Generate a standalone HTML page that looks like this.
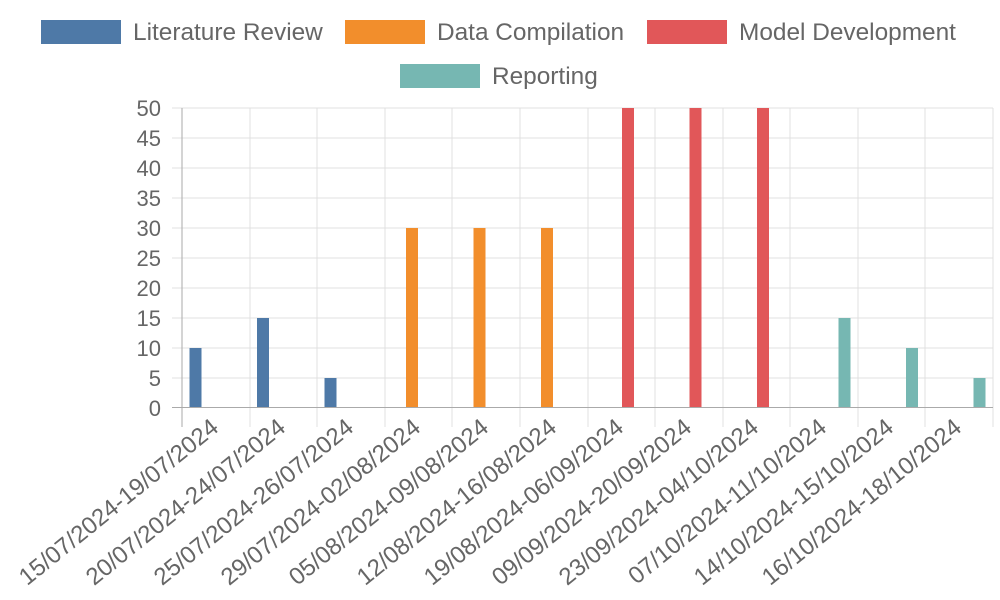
<!DOCTYPE html>
<html><head><meta charset="utf-8"><style>
html,body{margin:0;padding:0;background:#fff;}
svg{display:block;font-family:"Liberation Sans",sans-serif;}
</style></head><body>
<svg width="1000" height="600" xmlns="http://www.w3.org/2000/svg">
<g font-size="24.4" fill="#666">
<rect x="41" y="20" width="80" height="24" fill="#4e79a7"/><text x="133" y="40">Literature Review</text>
<rect x="345" y="20" width="80" height="24" fill="#f28e2c"/><text x="437" y="40">Data Compilation</text>
<rect x="647" y="20" width="80" height="24" fill="#e15759"/><text x="739" y="40">Model Development</text>
<rect x="400" y="64" width="80" height="24" fill="#76b7b2"/><text x="492" y="84">Reporting</text>
</g>
<g stroke="#e0e0e0" stroke-width="1">
<line x1="172" y1="108" x2="993" y2="108"/><line x1="172" y1="138" x2="993" y2="138"/>
<line x1="172" y1="168" x2="993" y2="168"/><line x1="172" y1="198" x2="993" y2="198"/>
<line x1="172" y1="228" x2="993" y2="228"/><line x1="172" y1="258" x2="993" y2="258"/>
<line x1="172" y1="288" x2="993" y2="288"/><line x1="172" y1="318" x2="993" y2="318"/>
<line x1="172" y1="348" x2="993" y2="348"/><line x1="172" y1="378" x2="993" y2="378"/>
<line x1="250" y1="108" x2="250" y2="427"/><line x1="317" y1="108" x2="317" y2="427"/>
<line x1="385" y1="108" x2="385" y2="427"/><line x1="452" y1="108" x2="452" y2="427"/>
<line x1="520" y1="108" x2="520" y2="427"/><line x1="588" y1="108" x2="588" y2="427"/>
<line x1="655" y1="108" x2="655" y2="427"/><line x1="723" y1="108" x2="723" y2="427"/>
<line x1="790" y1="108" x2="790" y2="427"/><line x1="858" y1="108" x2="858" y2="427"/>
<line x1="925" y1="108" x2="925" y2="427"/><line x1="993" y1="108" x2="993" y2="427"/>
</g>
<g stroke="#aaa"><line x1="182" y1="108" x2="182" y2="427"/><line x1="172" y1="407.5" x2="993" y2="407.5"/></g>
<g font-size="22" fill="#666" text-anchor="end">
<text x="161" y="116">50</text><text x="161" y="146">45</text><text x="161" y="176">40</text>
<text x="161" y="206">35</text><text x="161" y="236">30</text><text x="161" y="266">25</text>
<text x="161" y="296">20</text><text x="161" y="326">15</text><text x="161" y="356">10</text>
<text x="161" y="386">5</text><text x="161" y="416">0</text>
</g>
<g>
<rect x="189.5" y="348" width="12" height="59" fill="#4e79a7"/>
<rect x="257" y="318" width="12" height="89" fill="#4e79a7"/>
<rect x="324.5" y="378" width="12" height="29" fill="#4e79a7"/>
<rect x="406" y="228" width="12" height="179" fill="#f28e2c"/>
<rect x="473.5" y="228" width="12" height="179" fill="#f28e2c"/>
<rect x="541" y="228" width="12" height="179" fill="#f28e2c"/>
<rect x="622" y="108" width="12" height="299" fill="#e15759"/>
<rect x="689.5" y="108" width="12" height="299" fill="#e15759"/>
<rect x="757" y="108" width="12" height="299" fill="#e15759"/>
<rect x="838.5" y="318" width="12" height="89" fill="#76b7b2"/>
<rect x="906" y="348" width="12" height="59" fill="#76b7b2"/>
<rect x="973.5" y="378" width="12" height="29" fill="#76b7b2"/>
</g>
<g font-size="24" fill="#666" text-anchor="end">
<text transform="translate(220,430) rotate(-39)">15/07/2024-19/07/2024</text>
<text transform="translate(287,430) rotate(-39)">20/07/2024-24/07/2024</text>
<text transform="translate(355,430) rotate(-39)">25/07/2024-26/07/2024</text>
<text transform="translate(422,430) rotate(-39)">29/07/2024-02/08/2024</text>
<text transform="translate(490,430) rotate(-39)">05/08/2024-09/08/2024</text>
<text transform="translate(558,430) rotate(-39)">12/08/2024-16/08/2024</text>
<text transform="translate(625,430) rotate(-39)">19/08/2024-06/09/2024</text>
<text transform="translate(693,430) rotate(-39)">09/09/2024-20/09/2024</text>
<text transform="translate(760,430) rotate(-39)">23/09/2024-04/10/2024</text>
<text transform="translate(828,430) rotate(-39)">07/10/2024-11/10/2024</text>
<text transform="translate(895,430) rotate(-39)">14/10/2024-15/10/2024</text>
<text transform="translate(963,430) rotate(-39)">16/10/2024-18/10/2024</text>
</g>
</svg>
</body></html>
